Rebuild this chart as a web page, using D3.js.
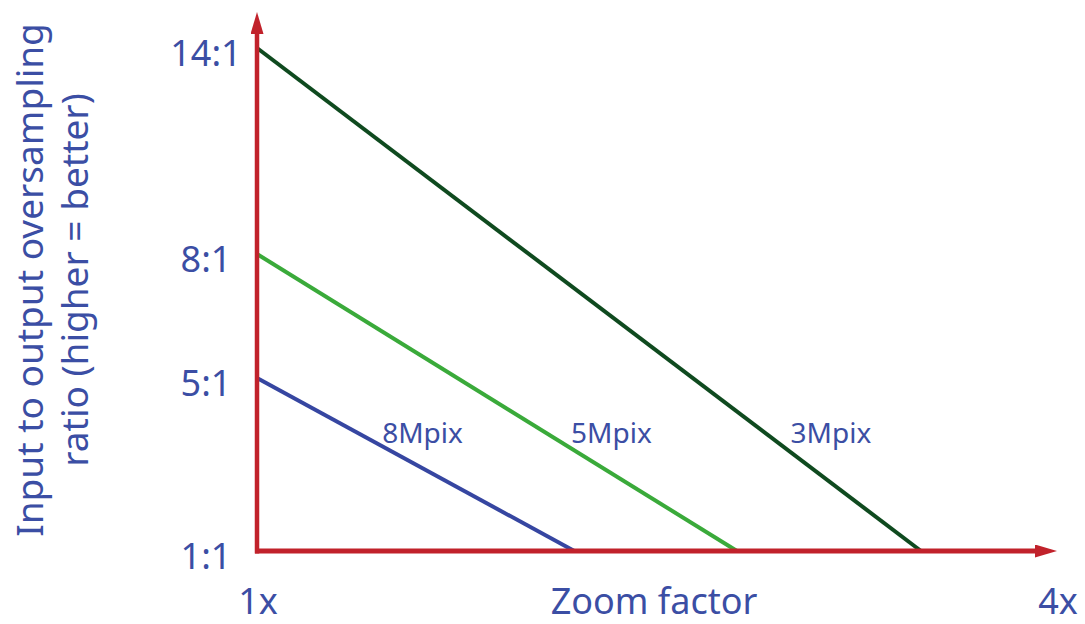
<!DOCTYPE html>
<html>
<head>
<meta charset="utf-8">
<script src="https://cdn.jsdelivr.net/npm/d3@7"></script>
<style>
  html, body { margin: 0; padding: 0; background: #fff; }
  svg { display: block; }
  text { font-family: "Noto Sans", "Open Sans", sans-serif; fill: #3b4ea4; }
</style>
</head>
<body>
<svg id="chart" width="1085" height="624"></svg>
<script>
// ---- data ----
const series = ["8Mpix", "5Mpix", "3Mpix"];
const startRatio = [5, 8, 14];          // oversampling ratio at 1x zoom
const endZoom = [2.19, 2.8, 3.49];      // zoom factor where ratio falls to 1:1
const yTickValues = [1, 5, 8, 14];
const yTickLabels = ["1:1", "5:1", "8:1", "14:1"];
const xTickValues = [1, 4];
const xTickLabels = ["1x", "4x"];
const xTitle = "Zoom factor";
const yTitle = ["Input to output oversampling", "ratio (higher = better)"];

// ---- styles ----
const colors = ["#3646a1", "#3aaa3a", "#0f4a1f"];
const axisColor = "#c1222b";

const svg = d3.select("#chart");

const x = d3.scaleLinear().domain([1, 4]).range([257, 1057]);
const y = d3.scaleLinear().domain([1, 5, 8, 14]).range([551, 378, 254, 48]);

// defs for arrowheads
const defs = svg.append("defs");
defs.append("marker")
  .attr("id", "arrow")
  .attr("viewBox", "0 0 22 13")
  .attr("refX", 0).attr("refY", 6.5)
  .attr("markerWidth", 22).attr("markerHeight", 13)
  .attr("markerUnits", "userSpaceOnUse")
  .attr("orient", "auto")
  .append("path").attr("d", "M0,0 L22,6.5 L0,13 Z").attr("fill", axisColor);

// series lines
const line = d3.line().x(d => x(d[0])).y(d => y(d[1]));
series.forEach((s, i) => {
  const pts = [[1, startRatio[i]], [endZoom[i], 1]];
  svg.append("path")
    .attr("d", line(pts))
    .attr("fill", "none")
    .attr("stroke", colors[i])
    .attr("stroke-width", 4);
});

// axes
svg.append("line")
  .attr("x1", x(1)).attr("y1", y(1) + 2.5)
  .attr("x2", x(1)).attr("y2", 34)
  .attr("stroke", axisColor).attr("stroke-width", 4.5)
  .attr("marker-end", "url(#arrow)");
svg.append("line")
  .attr("x1", x(1) - 2).attr("y1", y(1))
  .attr("x2", x(4) - 22).attr("y2", y(1))
  .attr("stroke", axisColor).attr("stroke-width", 5)
  .attr("marker-end", "url(#arrow)");

// series labels: placed right of each line at a common baseline
const labelBaseline = 443;
series.forEach((s, i) => {
  const y0 = y(startRatio[i]), y1 = y(1);
  const x0 = x(1), x1 = x(endZoom[i]);
  const ymid = labelBaseline - 12;
  const xc = x0 + (ymid - y0) / (y1 - y0) * (x1 - x0);
  svg.append("text")
    .attr("x", xc + 28).attr("y", labelBaseline)
    .attr("font-size", 28)
    .text(s);
});

// y tick labels
yTickValues.forEach((v, i) => {
  svg.append("text")
    .attr("x", 206).attr("y", y(v) + 4)
    .attr("text-anchor", "middle")
    .attr("dominant-baseline", "central")
    .attr("font-size", 36)
    .text(yTickLabels[i]);
});

// x tick labels
xTickValues.forEach((v, i) => {
  svg.append("text")
    .attr("x", x(v) + 1).attr("y", 614)
    .attr("text-anchor", "middle")
    .attr("font-size", 36)
    .text(xTickLabels[i]);
});

// x title
svg.append("text")
  .attr("x", 654).attr("y", 614)
  .attr("text-anchor", "middle")
  .attr("font-size", 36)
  .text(xTitle);

// y title
const yt = svg.append("g").attr("transform", "translate(0,280) rotate(-90)");
yTitle.forEach((t, i) => {
  yt.append("text")
    .attr("x", 0).attr("y", 43 + i * 45)
    .attr("text-anchor", "middle")
    .attr("font-size", 37)
    .text(t);
});
</script>
</body>
</html>
